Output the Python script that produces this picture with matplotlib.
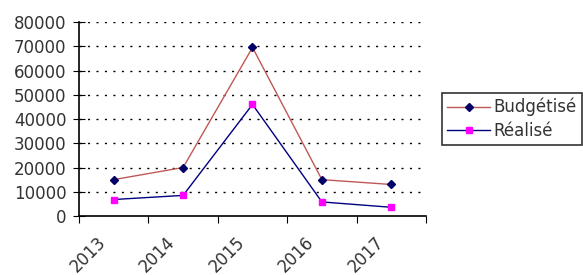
import numpy as np
import matplotlib
matplotlib.use("Agg")
import matplotlib.pyplot as plt
import matplotlib.transforms as mtransforms

years = ["2013", "2014", "2015", "2016", "2017"]
budgetise = [15000, 20000, 69500, 15000, 13000]
realise = [6800, 8500, 46000, 5800, 3600]


def main():
	fig = plt.figure(figsize=(5.83, 2.75), dpi=100)
	ax = fig.add_axes([0.1355, 0.2145, 0.5952, 0.7055])

	x = np.arange(len(years)) + 0.5
	ax.plot(x, budgetise, color="#c05858", lw=1, marker="D", ms=4,
		mfc="#000066", mec="#000066", label="Budgétisé")
	ax.plot(x, realise, color="#000080", lw=1, marker="s", ms=5,
		mfc="#ff00ff", mec="#ff00ff", label="Réalisé")

	ax.set_xlim(0, len(years))
	ax.set_ylim(0, 80000)
	ax.set_yticks(range(0, 80001, 10000))
	ax.set_xticks(range(len(years) + 1))
	ax.set_xticklabels([])
	ax.tick_params(axis="x", which="major", direction="out", length=5)
	ax.tick_params(axis="y", direction="inout", length=8, labelsize=12,
		pad=5, labelcolor="#333333")

	# year labels, rotated and shifted left of the category centre
	off = mtransforms.ScaledTranslation(-0.17, -0.17, fig.dpi_scale_trans)
	tr = ax.get_xaxis_transform() + off
	for xi, yr in zip(x, years):
		ax.text(xi, 0, yr, transform=tr, rotation=45, ha="right", va="top",
			rotation_mode="anchor", fontsize=12, color="#333333")

	for s in ["top", "right"]:
		ax.spines[s].set_visible(False)
	for s in ["left", "bottom"]:
		ax.spines[s].set_linewidth(1.2)

	for v in range(10000, 80001, 10000):
		ax.axhline(v, color="black", lw=1, ls=(0, (1.5, 4.6)), zorder=0)

	leg = fig.legend(loc="upper left", bbox_to_anchor=(0.758, 0.662),
		fontsize=12, frameon=True, fancybox=False, handlelength=2.6,
		borderpad=0.3, labelspacing=0.35, handletextpad=0.2,
		borderaxespad=0, labelcolor="#333333")
	leg.get_frame().set_edgecolor("black")
	leg.get_frame().set_linewidth(1.2)

	fig.savefig("out.png", dpi=100)


if __name__ == "__main__":
	main()
